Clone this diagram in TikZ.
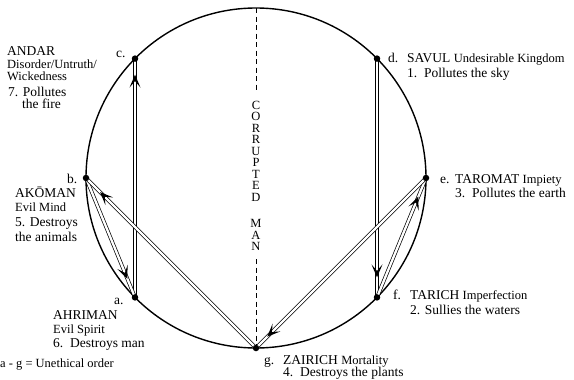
\documentclass[tikz,border=0pt]{standalone}
\usepackage{fontspec}
\setmainfont{Liberation Serif}
\usetikzlibrary{decorations.markings}
\begin{document}
\begin{tikzpicture}[x=1pt,y=-1pt,
  dot/.style={circle,fill=black,inner sep=0pt,minimum size=6.5pt},
  ring/.style={line width=1.4pt},
  conn/.style={double,double distance=2.3pt,line width=0.7pt},
  tipat/.style={decorate,decoration={markings,mark=at position #1 with
      {\fill[black] (0pt,0pt) -- (-13pt,5.5pt) -- (-6.5pt,0pt) -- (-13pt,-5.5pt) -- cycle;}}},
  dashline/.style={line width=0.7pt,dash pattern=on 5pt off 3.5pt},
  txt/.style={inner sep=0pt,anchor=base west},
  nm/.style={txt,font=\fontsize{13.5}{15}\selectfont},
  sm/.style={txt,font=\fontsize{12.5}{14}\selectfont},
  nb/.style={txt,font=\fontsize{13.5}{15}\selectfont},
]
\useasboundingbox (0,0) rectangle (574,380);

% circle
\draw[ring] (256,178) circle [radius=170pt];

% points
\coordinate (a) at (135,297.4);
\coordinate (b) at (86,178);
\coordinate (c) at (135,58.6);
\coordinate (d) at (377,58.6);
\coordinate (e) at (426,178);
\coordinate (f) at (377,297.4);
\coordinate (g) at (256,348);
\coordinate (top) at (256,8);

% corrupted man
\node[font=\fontsize{12.5}{11.5}\selectfont,align=center,inner sep=0pt,anchor=north] (cm) at (256,101)
  {C\\O\\R\\R\\U\\P\\T\\E\\D\\[15pt]M\\A\\N};
\draw[dashline] (top) -- ([yshift=9pt]cm.north);
\draw[dashline] ([yshift=-8pt]cm.south) -- (g);

% connectors
\draw[conn] (a) -- (c);
\draw[conn] (b) -- (a);
\draw[conn] (d) -- (f);
\draw[conn] (f) -- (e);
\draw[conn] (g) -- (b);
\draw[conn] (e) -- (g);

\path[tipat=-16pt] (a) -- (c);
\path[tipat=-20pt] (b) -- (a);
\path[tipat=-20pt] (d) -- (f);
\path[tipat=-20pt] (f) -- (e);
\path[tipat=-20pt] (g) -- (b);
\path[tipat=-16pt] (e) -- (g);

% dots
\node[dot] (adot) at (a) {};
\node[dot] (bdot) at (b) {};
\node[dot] (cdot) at (c) {};
\node[dot] (ddot) at (d) {};
\node[dot] (edot) at (e) {};
\node[dot] (fdot) at (f) {};
\node[dot] (gdot) at (g) {};

% left labels
\node[nm] (andar) at (7,56) {ANDAR};
\node[sm] (andar2) at (7,68) {Disorder/Untruth/};
\node[sm] (andar3) at (7,81) {Wickedness};
\node[nb] (andar4) at (8,96) {7. Pollutes};
\node[nb] (andar5) at (22,108) {the fire};
\node[nb] (lc) at (116,57) {c.};

\node[nb] (lb) at (67,183) {b.};
\node[nm] (akoman) at (15,197) {AKŌMAN};
\node[sm] (akoman2) at (15,211) {Evil Mind};
\node[nb] (akoman3) at (15,226) {5. Destroys};
\node[nb] (akoman4) at (15,241) {the animals};

\node[nb] (la) at (114,304) {a.};
\node[nm] (ahriman) at (53,319) {AHRIMAN};
\node[sm] (ahriman2) at (53,333) {Evil Spirit};
\node[nb] (ahriman3) at (53,347) {6.\, Destroys man};
\node[sm] (legend) at (0,367) {a - g = Unethical order};

% right labels
\node[nb] (ld) at (388,62) {d.};
\node[nm] (savul) at (407,62) {SAVUL {\fontsize{12.5}{14}\selectfont Undesirable Kingdom}};
\node[nb] (savul2) at (407,77) {1.\, Pollutes the sky};

\node[nb] (le) at (440,183) {e.};
\node[nm] (taromat) at (455,183) {TAROMAT {\fontsize{12.5}{14}\selectfont Impiety}};
\node[nb] (taromat2) at (455,197) {3.\, Pollutes the earth};

\node[nb] (lf) at (393,299) {f.};
\node[nm] (tarich) at (410,299) {TARICH {\fontsize{12.5}{14}\selectfont Imperfection}};
\node[nb] (tarich2) at (410,314) {2. Sullies the waters};

\node[nb] (lg) at (264,364) {g.};
\node[nm] (zairich) at (283,364) {ZAIRICH {\fontsize{12.5}{14}\selectfont Mortality}};
\node[nb] (zairich2) at (283,376) {4.\, Destroys the plants};
\end{tikzpicture}
\end{document}
